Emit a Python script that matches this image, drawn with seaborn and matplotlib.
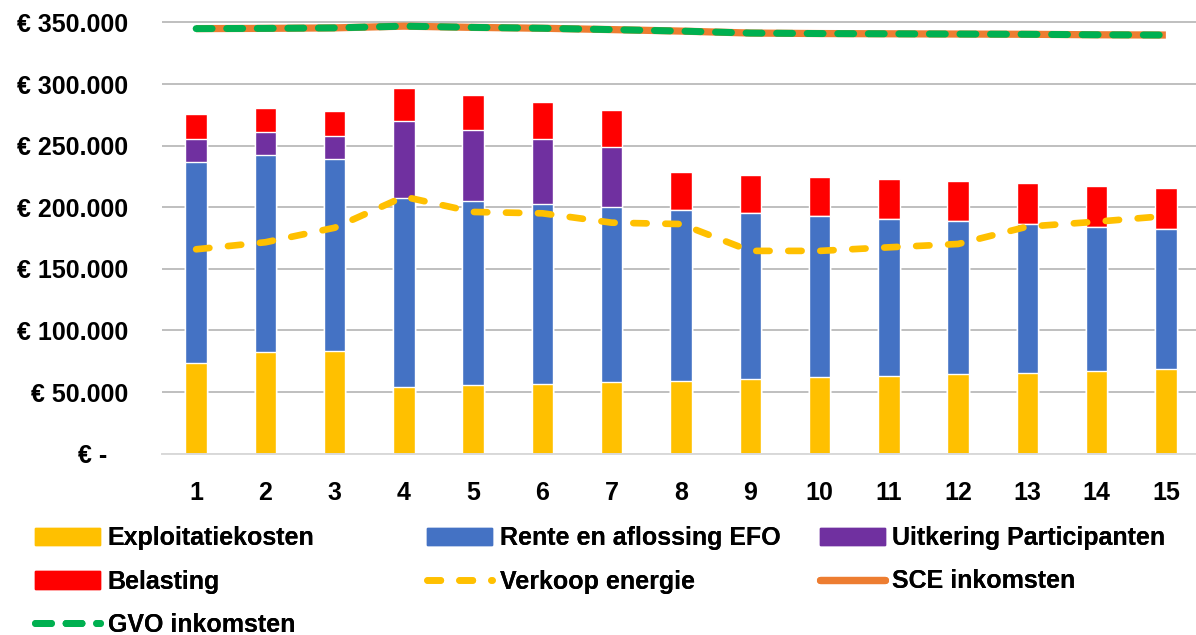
import numpy as np
import pandas as pd
import matplotlib
matplotlib.use("Agg")
import matplotlib.pyplot as plt
from matplotlib.patches import Patch
from matplotlib.lines import Line2D
from matplotlib.ticker import FuncFormatter, MultipleLocator
import seaborn as sns

# --- DATA (gelezen uit de grafiek) ---
jaren = [str(j) for j in range(1, 16)]
exploitatiekosten = [73400, 82500, 83400, 54400, 55500, 56800, 57900, 59000,
                     60600, 62000, 63100, 64400, 65500, 67400, 68700]
rente_aflossing_efo = [163400, 159700, 156000, 152900, 149400, 145600, 142100, 138500,
                       134800, 130900, 127400, 124500, 120900, 116900, 113700]
uitkering_participanten = [18400, 18700, 18700, 62500, 58100, 53300, 48700, 0,
                           0, 0, 0, 0, 0, 0, 0]
belasting = [20800, 19500, 20300, 27300, 27900, 29500, 30500, 31100,
             31100, 31700, 32500, 32200, 33100, 33000, 33300]
verkoop_energie = [165900, 171600, 183400, 208600, 196200, 195100, 187500, 186400,
                   164600, 164600, 167500, 170200, 184300, 188300, 192900]
sce_inkomsten = [345000, 345200, 345600, 347000, 346000, 345300, 344200, 343000,
                 341400, 341000, 340800, 340600, 340400, 340000, 339800]
gvo_inkomsten = [345000, 345200, 345600, 347000, 346000, 345300, 344200, 343000,
                 341400, 341000, 340800, 340600, 340400, 340000, 339800]

kleuren = {
    "Exploitatiekosten": "#FFC000",
    "Rente en aflossing EFO": "#4472C4",
    "Uitkering Participanten": "#7030A0",
    "Belasting": "#FF0000",
    "Verkoop energie": "#FFC000",
    "SCE inkomsten": "#ED7D31",
    "GVO inkomsten": "#00B050",
}

sns.set_style("white")
plt.rcParams['font.family'] = ['Liberation Sans', 'DejaVu Sans']
plt.rcParams['font.weight'] = 'bold'
plt.rcParams['text.color'] = 'black'
plt.rcParams['xtick.color'] = 'black'
plt.rcParams['ytick.color'] = 'black'

W, H = 1196, 635
fig = plt.figure(figsize=(W / 100, H / 100), dpi=100)
# plot area in pixels: links 161.5, nul-lijn op y=453.7 (van boven)
ax = fig.add_axes([161.5 / W, 181.3 / H, 1039.0 / W, 437.4 / H])

# gestapelde balken: cumulatief, grootste eerst tekenen
df = pd.DataFrame({
    "jaar": jaren,
    "expl": exploitatiekosten,
    "rente": rente_aflossing_efo,
    "uitk": uitkering_participanten,
    "bel": belasting,
})
df["c1"] = df["expl"]
df["c2"] = df["c1"] + df["rente"]
df["c3"] = df["c2"] + df["uitk"]
df["c4"] = df["c3"] + df["bel"]

for kol, naam in [("c4", "Belasting"), ("c3", "Uitkering Participanten"),
                  ("c2", "Rente en aflossing EFO"), ("c1", "Exploitatiekosten")]:
    sns.barplot(data=df, x="jaar", y=kol, color=kleuren[naam], width=0.31,
                saturation=1, errorbar=None, ax=ax, zorder=2)

pos = np.arange(len(jaren))
sns.lineplot(x=pos, y=verkoop_energie, ax=ax, color=kleuren["Verkoop energie"],
             linewidth=4.8, linestyle=(0, (2.0, 2.8)), dash_capstyle='round', zorder=3)
sns.lineplot(x=pos, y=sce_inkomsten, ax=ax, color=kleuren["SCE inkomsten"],
             linewidth=5.2, solid_capstyle='butt', zorder=3)
sns.lineplot(x=pos, y=gvo_inkomsten, ax=ax, color=kleuren["GVO inkomsten"],
             linewidth=5.0, linestyle=(0, (2.3, 2.1)), dash_capstyle='round', zorder=4)

ax.set_xlim(-0.5, 14.5)
ax.set_ylim(0, 355000)
ax.yaxis.set_major_locator(MultipleLocator(50000))


def euro(v, p):
    if v == 0:
        return "€ -   "
    return "€ " + f"{int(v):,}".replace(",", ".")


ax.yaxis.set_major_formatter(FuncFormatter(euro))
ax.set_xlabel("")
ax.set_ylabel("")
ax.grid(axis='y', color='#BFBFBF', linewidth=1.4, zorder=0)
ax.set_axisbelow(True)
for s in ["top", "right", "left"]:
    ax.spines[s].set_visible(False)
ax.spines["bottom"].set_color('#D9D9D9')
ax.spines["bottom"].set_linewidth(1.4)
ax.tick_params(axis='y', length=0, pad=24, labelsize=18)
ax.tick_params(axis='x', length=0, pad=20, labelsize=18)
for t in ax.get_xticklabels() + ax.get_yticklabels():
    t.set_fontweight('bold')

# legenda: drie kolommen, rij-gewijs zoals in Excel
h = {
    "Exploitatiekosten": Patch(color=kleuren["Exploitatiekosten"]),
    "Rente en aflossing EFO": Patch(color=kleuren["Rente en aflossing EFO"]),
    "Uitkering Participanten": Patch(color=kleuren["Uitkering Participanten"]),
    "Belasting": Patch(color=kleuren["Belasting"]),
    "Verkoop energie": Line2D([], [], color=kleuren["Verkoop energie"], linewidth=4.8,
                              linestyle=(0, (2.0, 2.8)), dash_capstyle='round'),
    "SCE inkomsten": Line2D([], [], color=kleuren["SCE inkomsten"], linewidth=5.2),
    "GVO inkomsten": Line2D([], [], color=kleuren["GVO inkomsten"], linewidth=5.0,
                            linestyle=(0, (2.3, 2.1)), dash_capstyle='round'),
}
kolommen = [
    (35, ["Exploitatiekosten", "Belasting", "GVO inkomsten"]),
    (427, ["Rente en aflossing EFO", "Verkoop energie"]),
    (820, ["Uitkering Participanten", "SCE inkomsten"]),
]
for x0, namen in kolommen:
    leg = fig.legend([h[n] for n in namen], namen, loc='upper left',
                     bbox_to_anchor=(x0 / W, 1 - 526 / H), frameon=False,
                     prop={'size': 18, 'weight': 'bold'}, handlelength=2.6,
                     handleheight=0.7, handletextpad=0.3, labelspacing=0.78,
                     borderpad=0, borderaxespad=0)
    fig.add_artist(leg)

fig.savefig("out.png", dpi=100)
